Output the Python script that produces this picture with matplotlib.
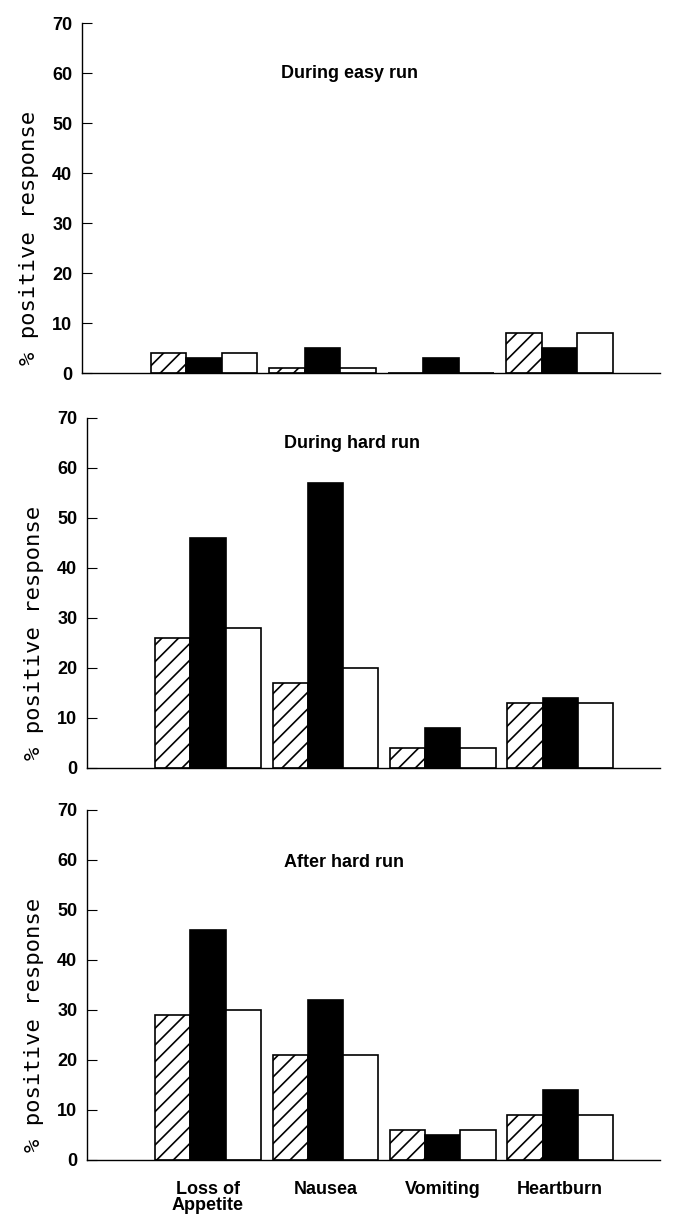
import numpy as np
import matplotlib.pyplot as plt

categories = ['Loss of\nAppetite', 'Nausea', 'Vomiting', 'Heartburn']
titles = ['During easy run', 'During hard run', 'After hard run']

# % positive response per panel: hatched, black, white series
hatched = [[4, 1, 0, 8], [26, 17, 4, 13], [29, 21, 6, 9]]
black = [[3, 5, 3, 5], [46, 57, 8, 14], [46, 32, 5, 14]]
white = [[4, 1, 0, 8], [28, 20, 4, 13], [30, 21, 6, 9]]

title_y = [60, 65, 59.5]

plt.rcParams['font.family'] = ['Liberation Sans', 'DejaVu Sans']
plt.rcParams['hatch.linewidth'] = 1.2

W, H = 675, 1216
fig = plt.figure(figsize=(W / 100, H / 100), dpi=100)

# axes boxes in pixels: left, bottom (y of zero line), right
lefts = [82, 87, 87]
bottoms = [373, 768, 1160]
right = 660
height = 350

x = np.arange(len(categories))
w = 0.3

for i in range(3):
    ax = fig.add_axes([lefts[i] / W, 1 - bottoms[i] / H,
                       (right - lefts[i]) / W, height / H])
    ax.bar(x - w, hatched[i], w, color='white', edgecolor='black',
           hatch='//', linewidth=1.2)
    ax.bar(x, black[i], w, color='black', edgecolor='black', linewidth=1.2)
    ax.bar(x + w, white[i], w, color='white', edgecolor='black', linewidth=1.2)

    ax.set_ylim(0, 70)
    ax.set_xlim(-1.03, 3.85)
    ax.set_yticks(range(0, 71, 10))
    ax.tick_params(axis='y', direction='in', length=7, width=0.8, pad=7,
                   labelsize=13)
    for lab in ax.get_yticklabels():
        lab.set_fontweight('bold')

    for s in ['top', 'right']:
        ax.spines[s].set_visible(False)
    ax.spines['left'].set_linewidth(1.0)
    ax.spines['bottom'].set_linewidth(1.0)

    ax.text(0.65, title_y[i], titles[i], fontsize=13, fontweight='bold',
            ha='left', va='center')

    ax.set_ylabel('% positive response', family='DejaVu Sans Mono',
                  fontsize=16)
    ax.yaxis.set_label_coords(-0.075, 0.385)

    if i == 2:
        ax.set_xticks(x)
        ax.set_xticklabels(categories, fontsize=13, fontweight='bold',
                           linespacing=0.95, va='top')
        ax.tick_params(axis='x', length=0, pad=15)
    else:
        ax.set_xticks([])

fig.savefig('out.png', dpi=100)
